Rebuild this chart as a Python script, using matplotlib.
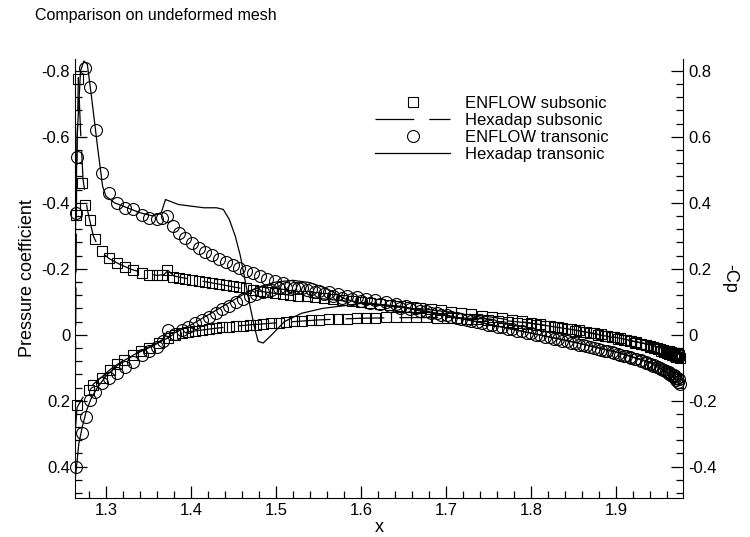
import matplotlib
matplotlib.use('Agg')
import matplotlib.pyplot as plt
from matplotlib.ticker import MultipleLocator, FuncFormatter

plt.rcParams['font.family'] = ['Liberation Sans', 'DejaVu Sans']
plt.rcParams['axes.unicode_minus'] = False

# ENFLOW, upper surface (shared aft stations)
x_up_aft = [1.3788, 1.3860, 1.3930, 1.4010, 1.4090, 1.4170, 1.4250, 1.4330, 1.4410, 1.4490,
            1.4570, 1.4650, 1.4730, 1.4810, 1.4900, 1.4990, 1.5080, 1.5170, 1.5260, 1.5360,
            1.5460, 1.5560, 1.5670, 1.5780, 1.5890, 1.6000, 1.6110, 1.6220, 1.6340, 1.6460,
            1.6580, 1.6700, 1.6820, 1.6940, 1.7060, 1.7180, 1.7300, 1.7420, 1.7540, 1.7660,
            1.7780, 1.7890, 1.8000, 1.8110, 1.8220, 1.8320, 1.8420, 1.8520, 1.8610, 1.8700,
            1.8790, 1.8870, 1.8950, 1.9030, 1.9100, 1.9170, 1.9230, 1.9290, 1.9350, 1.9400,
            1.9450, 1.9490, 1.9530, 1.9570, 1.9600, 1.9630, 1.9660, 1.9690, 1.9710, 1.9730,
            1.9750]
x_up_le_sub = [1.2647, 1.2670, 1.2718, 1.2753, 1.2812, 1.2870, 1.2953, 1.3035, 1.3129, 1.3224,
               1.3318, 1.3424, 1.3506, 1.3600, 1.3659, 1.3718]
x_up_le_tr = [1.2645, 1.2660, 1.2753, 1.2812, 1.2882, 1.2953, 1.3035, 1.3129, 1.3224, 1.3318,
              1.3424, 1.3506, 1.3600, 1.3659, 1.3718]

cp_sub_up = [-0.364, -0.776, -0.460, -0.394, -0.348, -0.290, -0.255, -0.233, -0.218, -0.206,
             -0.197, -0.188, -0.182, -0.180, -0.180, -0.197,
             -0.176, -0.172, -0.170, -0.166, -0.163, -0.160, -0.157, -0.154, -0.151, -0.148,
             -0.145, -0.141, -0.137, -0.134, -0.131, -0.128, -0.125, -0.122, -0.119, -0.116,
             -0.113, -0.110, -0.107, -0.104, -0.101, -0.098, -0.095, -0.092, -0.089, -0.086,
             -0.083, -0.080, -0.077, -0.074, -0.070, -0.066, -0.062, -0.058, -0.054, -0.050,
             -0.046, -0.042, -0.037, -0.032, -0.027, -0.022, -0.017, -0.012, -0.008, -0.004,
             0.000, 0.004, 0.008, 0.012, 0.016, 0.020, 0.024, 0.028, 0.032, 0.036,
             0.040, 0.044, 0.048, 0.052, 0.055, 0.058, 0.061, 0.064, 0.066, 0.068,
             0.070]
cp_tr_up = [-0.37, -0.54, -0.81, -0.75, -0.62, -0.49, -0.43, -0.40, -0.385, -0.38,
            -0.364, -0.355, -0.35, -0.355, -0.36,
            -0.330, -0.310, -0.294, -0.278, -0.264, -0.252, -0.241, -0.231, -0.221, -0.211,
            -0.202, -0.194, -0.186, -0.178, -0.170, -0.163, -0.156, -0.149, -0.142, -0.135,
            -0.129, -0.123, -0.117, -0.112, -0.107, -0.102, -0.097, -0.092, -0.087, -0.082,
            -0.077, -0.072, -0.066, -0.060, -0.054, -0.048, -0.042, -0.036, -0.030, -0.024,
            -0.018, -0.012, -0.006, 0.000, 0.006, 0.012, 0.018, 0.024, 0.030, 0.036,
            0.042, 0.048, 0.053, 0.058, 0.063, 0.068, 0.073, 0.078, 0.083, 0.088,
            0.093, 0.098, 0.103, 0.108, 0.113, 0.118, 0.124, 0.130, 0.136, 0.143,
            0.150]

# ENFLOW, lower surface
x_lo_aft = [1.3730, 1.3810, 1.3890, 1.3970, 1.4050, 1.4130, 1.4210, 1.4290, 1.4370, 1.4450,
            1.4530, 1.4610, 1.4690, 1.4770, 1.4850, 1.4940, 1.5030, 1.5120, 1.5210, 1.5310,
            1.5410, 1.5510, 1.5620, 1.5730, 1.5840, 1.5950, 1.6060, 1.6170, 1.6290, 1.6410,
            1.6530, 1.6650, 1.6770, 1.6890, 1.7010, 1.7130, 1.7250, 1.7370, 1.7490, 1.7610,
            1.7730, 1.7840, 1.7950, 1.8060, 1.8170, 1.8270, 1.8370, 1.8470, 1.8560, 1.8650,
            1.8740, 1.8820, 1.8900, 1.8980, 1.9050, 1.9120, 1.9180, 1.9240, 1.9300, 1.9350,
            1.9400, 1.9440, 1.9480, 1.9520, 1.9560, 1.9590, 1.9620, 1.9650, 1.9680, 1.9700,
            1.9720, 1.9740]
x_lo_le_sub = [1.2659, 1.2800, 1.2847, 1.2953, 1.3047, 1.3130, 1.3212, 1.3318, 1.3410, 1.3506,
               1.3620]
x_lo_le_tr = [1.2648, 1.2718, 1.2765, 1.2812, 1.2870, 1.2953, 1.3035, 1.3129, 1.3224, 1.3318,
              1.3424, 1.3506, 1.3600, 1.3670]

cp_sub_lo = [0.212, 0.167, 0.152, 0.130, 0.106, 0.090, 0.076, 0.060, 0.050, 0.040,
             0.024,
             0.010, 0.000, -0.004, -0.008, -0.011, -0.014, -0.017, -0.020, -0.022, -0.024,
             -0.026, -0.028, -0.030, -0.031, -0.033, -0.035, -0.037, -0.039, -0.041, -0.043,
             -0.045, -0.046, -0.047, -0.048, -0.049, -0.050, -0.051, -0.052, -0.053, -0.053,
             -0.053, -0.053, -0.053, -0.052, -0.051, -0.050, -0.049, -0.047, -0.045, -0.043,
             -0.040, -0.037, -0.034, -0.031, -0.028, -0.025, -0.021, -0.017, -0.013, -0.009,
             -0.005, -0.001, 0.003, 0.007, 0.011, 0.015, 0.019, 0.023, 0.027, 0.031,
             0.034, 0.037, 0.040, 0.043, 0.046, 0.048, 0.050, 0.052, 0.054, 0.056,
             0.058, 0.060]
cp_tr_lo = [0.400, 0.297, 0.248, 0.197, 0.173, 0.146, 0.130, 0.115, 0.097, 0.082,
            0.060, 0.050, 0.036, 0.018,
            -0.015, -0.003, -0.015, -0.025, -0.035, -0.045, -0.055, -0.066, -0.077, -0.088,
            -0.098, -0.107, -0.116, -0.124, -0.131, -0.137, -0.141, -0.143, -0.143, -0.141,
            -0.138, -0.134, -0.129, -0.124, -0.119, -0.114, -0.109, -0.104, -0.098, -0.092,
            -0.086, -0.080, -0.073, -0.066, -0.059, -0.052, -0.045, -0.038, -0.031, -0.024,
            -0.017, -0.011, -0.005, 0.001, 0.007, 0.013, 0.019, 0.025, 0.030, 0.035,
            0.040, 0.045, 0.050, 0.055, 0.060, 0.065, 0.070, 0.075, 0.080, 0.085,
            0.090, 0.094, 0.098, 0.102, 0.106, 0.110, 0.114, 0.118, 0.122, 0.126,
            0.130, 0.135]

# Hexadap, subsonic
hx_sub_up = [1.2635, 1.2655, 1.2675, 1.2700, 1.2730, 1.2780, 1.2850, 1.2930, 1.3030, 1.3150,
             1.3300, 1.3450, 1.3600, 1.3680, 1.3730, 1.3800, 1.4000, 1.4300, 1.4600, 1.5000,
             1.5500, 1.6000, 1.6500, 1.7000, 1.7500, 1.8000, 1.8500, 1.9000, 1.9400, 1.9650,
             1.9750]
hc_sub_up = [0.30, -0.50, -0.78, -0.62, -0.47, -0.38, -0.30, -0.255, -0.232, -0.215,
             -0.198, -0.187, -0.18, -0.182, -0.195, -0.178, -0.168, -0.155, -0.14, -0.125,
             -0.11, -0.098, -0.085, -0.07, -0.055, -0.035, -0.015, 0.01, 0.03, 0.05,
             0.065]
hx_sub_lo = [1.2635, 1.2660, 1.2750, 1.2850, 1.2950, 1.3050, 1.3200, 1.3350, 1.3500, 1.3650,
             1.3800, 1.4000, 1.4300, 1.4600, 1.5000, 1.5500, 1.6000, 1.6500, 1.7000, 1.7500,
             1.8000, 1.8500, 1.9000, 1.9400, 1.9650, 1.9750]
hc_sub_lo = [0.30, 0.22, 0.18, 0.15, 0.128, 0.105, 0.078, 0.058, 0.04, 0.02,
             0.0, -0.01, -0.02, -0.028, -0.036, -0.045, -0.05, -0.052, -0.052, -0.048,
             -0.035, -0.015, 0.008, 0.03, 0.048, 0.06]

# Hexadap, transonic
hx_tr_up = [1.2635, 1.2640, 1.2660, 1.2700, 1.2740, 1.2780, 1.2830, 1.2900, 1.2960, 1.3000,
            1.3100, 1.3250, 1.3400, 1.3550, 1.3650, 1.3700, 1.3750, 1.3850, 1.4000, 1.4150,
            1.4300, 1.4380, 1.4450, 1.4520, 1.4580, 1.4640, 1.4700, 1.4750, 1.4790, 1.4850,
            1.4950, 1.5100, 1.5300, 1.5550, 1.5800, 1.6000, 1.6500, 1.7000, 1.7500, 1.8000,
            1.8500, 1.9000, 1.9400, 1.9650, 1.9750]
hc_tr_up = [0.445, -0.30, -0.60, -0.80, -0.83, -0.82, -0.72, -0.57, -0.45, -0.42,
            -0.40, -0.385, -0.37, -0.36, -0.37, -0.41, -0.405, -0.395, -0.39, -0.385,
            -0.385, -0.38, -0.35, -0.30, -0.24, -0.16, -0.08, -0.02, 0.02, 0.025,
            0.0, -0.04, -0.065, -0.08, -0.088, -0.095, -0.082, -0.058, -0.032, -0.005,
            0.022, 0.052, 0.082, 0.11, 0.14]
hx_tr_lo = [1.2635, 1.2680, 1.2720, 1.2770, 1.2830, 1.2900, 1.3000, 1.3100, 1.3200, 1.3300,
            1.3400, 1.3500, 1.3600, 1.3680, 1.3720, 1.3800, 1.4000, 1.4200, 1.4400, 1.4600,
            1.4800, 1.5000, 1.5200, 1.5400, 1.5600, 1.5800, 1.6000, 1.6500, 1.7000, 1.7500,
            1.8000, 1.8500, 1.9000, 1.9400, 1.9650, 1.9750]
hc_tr_lo = [0.445, 0.33, 0.28, 0.23, 0.19, 0.16, 0.125, 0.10, 0.08, 0.065,
            0.05, 0.038, 0.025, 0.012, -0.01, -0.005, -0.03, -0.06, -0.09, -0.12,
            -0.145, -0.16, -0.165, -0.158, -0.14, -0.11, -0.095, -0.085, -0.06, -0.032,
            -0.005, 0.022, 0.052, 0.085, 0.12, 0.15]

fig = plt.figure(figsize=(7.5, 5.37), dpi=100)
ax = fig.add_axes([0.1, 0.0726, 0.8107, 0.8175])

dash = (0, (31, 12))
mk = dict(linestyle='none', mfc='none', mec='black', mew=0.8, clip_on=False)

ax.plot(x_up_le_sub + x_up_aft, cp_sub_up, marker='s', ms=6.5, label='ENFLOW subsonic', **mk)
ax.plot(x_lo_le_sub + x_lo_aft, cp_sub_lo, marker='s', ms=6.5, **mk)
ax.plot(hx_sub_up, hc_sub_up, color='black', lw=0.9, linestyle=dash, label='Hexadap subsonic')
ax.plot(hx_sub_lo, hc_sub_lo, color='black', lw=0.9, linestyle=dash)
ax.plot(x_up_le_tr + x_up_aft, cp_tr_up, marker='o', ms=8.6, label='ENFLOW transonic', **mk)
ax.plot(x_lo_le_tr + x_lo_aft, cp_tr_lo, marker='o', ms=8.6, **mk)
ax.plot(hx_tr_up, hc_tr_up, color='black', lw=0.9, label='Hexadap transonic')
ax.plot(hx_tr_lo, hc_tr_lo, color='black', lw=0.9)

ax.set_xlim(1.2635, 1.979)
ax.set_ylim(0.495, -0.836)
ax.xaxis.set_major_locator(MultipleLocator(0.1))
ax.xaxis.set_minor_locator(MultipleLocator(0.02))
ax.yaxis.set_major_locator(MultipleLocator(0.2))
ax.yaxis.set_minor_locator(MultipleLocator(0.04))
fmt = FuncFormatter(lambda v, p: '0' if abs(v) < 1e-9 else f'{v:.1f}')
ax.xaxis.set_major_formatter(FuncFormatter(lambda v, p: f'{v:.1f}'))
ax.yaxis.set_major_formatter(fmt)
ax.spines['top'].set_visible(False)
ax.spines['right'].set_visible(False)
ax.tick_params(which='both', direction='in', labelsize=12, width=0.9, top=False, right=False)
ax.tick_params(which='major', length=8.5)
ax.tick_params(which='minor', length=5)
ax.set_xlabel('x', fontsize=13, labelpad=1)
ax.set_ylabel('Pressure coefficient', fontsize=13, labelpad=4)

ax2 = ax.twinx()
ax2.set_ylim(-0.495, 0.836)
ax2.yaxis.set_major_locator(MultipleLocator(0.2))
ax2.yaxis.set_minor_locator(MultipleLocator(0.04))
ax2.yaxis.set_major_formatter(fmt)
ax2.spines['top'].set_visible(False)
ax2.spines['left'].set_visible(False)
ax2.spines['bottom'].set_visible(False)
ax2.tick_params(which='both', direction='in', labelsize=12, width=0.9)
ax2.tick_params(which='major', length=8.5)
ax2.tick_params(which='minor', length=5)
ax2.set_ylabel('-Cp', fontsize=13, rotation=270, labelpad=16)

ax.legend(loc='upper left', bbox_to_anchor=(0.50, 0.822), bbox_transform=fig.transFigure,
          frameon=False, fontsize=12, handlelength=4.5, handletextpad=0.9,
          labelspacing=0.12, borderpad=0, borderaxespad=0)

fig.text(0.047, 0.972, 'Comparison on undeformed mesh', fontsize=11.5, va='center', ha='left')

fig.savefig('out.png', dpi=100)
